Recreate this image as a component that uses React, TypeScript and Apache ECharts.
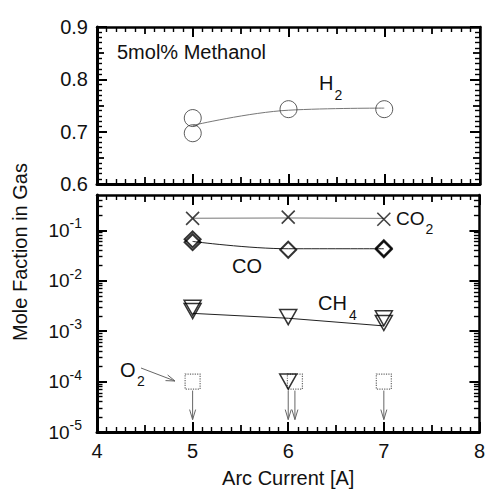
import { useEffect, useRef } from 'react';
import * as echarts from 'echarts';

const FONT = '"Liberation Sans", Arial, Helvetica, sans-serif';

// ---- axis / tick definitions ----
const xRange = [4, 8];
const xMajorTicks = [4, 5, 6, 7, 8];
const topYRange = [0.6, 0.9];
const topYMajorTicks = [0.6, 0.7, 0.8, 0.9];
const logDecades = [-5, -4, -3, -2, -1];
const logMinorMultipliers = [2, 3, 4, 5, 6, 7, 8, 9];
const bottomYMaxValue = 0.5;

// ---- data ----
const h2Points = [[5, 0.726], [5, 0.697], [6, 0.743], [7, 0.743]];
const h2Fit = [[5, 0.712], [6, 0.741], [7, 0.745]];

const co2Points = [[5, 0.172], [6, 0.182], [7, 0.165]];
const co2Fit = [[5, 0.173], [6, 0.175], [7, 0.172]];

const coPoints = [[5, 0.066], [5, 0.058], [6, 0.041], [7, 0.042], [7, 0.044]];
const coFit = [[5, 0.06], [6, 0.043], [7, 0.043]];

const ch4Points = [[5, 2.9e-3], [5, 2.5e-3], [6, 1.9e-3], [7, 1.8e-3], [7, 1.45e-3]];
const ch4Fit = [[5, 2.25e-3], [6, 1.8e-3], [7, 1.27e-3]];
const ch4UpperLimit = [[6, 1e-4]];

const o2UpperLimit = [[5, 1e-4], [6.07, 1e-4], [7, 1e-4]];

const toLog = (pts: number[][]) => pts.map(([x, v]) => [x, Math.log10(v)]);

export default function App() {
  const ref = useRef<HTMLDivElement>(null);

  useEffect(() => {
    if (!ref.current) return;
    const chart = echarts.init(ref.current, undefined, { renderer: 'svg' });

    const logMax = Math.log10(bottomYMaxValue);
    const minorLog: number[] = [];
    logDecades.forEach((e) => {
      logMinorMultipliers.forEach((k) => {
        const v = Math.log10(k) + e;
        if (v < logMax - 1e-6) minorLog.push(v);
      });
    });

    const tick = () => ({ show: true, inside: true, length: 7, lineStyle: { color: '#000', width: 1.8 } });
    const minor = () => ({ show: true, splitNumber: 5, length: 5, lineStyle: { color: '#000', width: 1.4 } });
    const majorTick = (values: number[]) => ({
      show: true,
      inside: true,
      length: 10,
      customValues: values,
      lineStyle: { color: '#000', width: 2 },
    });
    const line = (w: number) => ({ show: true, onZero: false, lineStyle: { color: '#000', width: w } });
    const noLine = () => ({ show: false, onZero: false });

    const xMain = (grid: number, pos: string, w: number, labels: boolean) => ({
      type: 'value',
      gridIndex: grid,
      position: pos,
      min: xRange[0],
      max: xRange[1],
      interval: 0.5,
      axisLine: line(w),
      axisTick: tick(),
      minorTick: minor(),
      splitLine: { show: false },
      axisLabel: labels
        ? {
            show: true,
            margin: 9,
            fontSize: 20,
            fontFamily: FONT,
            color: '#111',
            formatter: (v: number) => (Math.abs(v - Math.round(v)) < 1e-6 ? String(Math.round(v)) : ''),
          }
        : { show: false },
    });

    const xOverlay = (grid: number, pos: string) => ({
      type: 'value',
      gridIndex: grid,
      position: pos,
      min: xRange[0],
      max: xRange[1],
      axisLine: noLine(),
      axisTick: majorTick(xMajorTicks),
      splitLine: { show: false },
      axisLabel: { show: false },
    });

    const topYMain = (pos: string, w: number, labels: boolean) => ({
      type: 'value',
      gridIndex: 0,
      position: pos,
      min: topYRange[0],
      max: topYRange[1],
      interval: 0.05,
      axisLine: line(w),
      axisTick: tick(),
      minorTick: minor(),
      splitLine: { show: false },
      axisLabel: labels
        ? {
            show: true,
            margin: 9,
            fontSize: 20,
            fontFamily: FONT,
            color: '#111',
            formatter: (v: number) =>
              Math.abs(v * 10 - Math.round(v * 10)) < 1e-6 ? v.toFixed(1) : '',
          }
        : { show: false },
    });

    const topYOverlay = (pos: string) => ({
      type: 'value',
      gridIndex: 0,
      position: pos,
      min: topYRange[0],
      max: topYRange[1],
      axisLine: noLine(),
      axisTick: majorTick(topYMajorTicks),
      splitLine: { show: false },
      axisLabel: { show: false },
    });

    const bottomYMajor = (pos: string, w: number, labels: boolean) => ({
      type: 'value',
      gridIndex: 1,
      position: pos,
      min: -5,
      max: logMax,
      interval: 1,
      axisLine: line(w),
      axisTick: majorTick(logDecades),
      splitLine: { show: false },
      axisLabel: labels
        ? {
            show: true,
            margin: 15,
            customValues: logDecades,
            color: '#111',
            formatter: (v: number) =>
              Math.abs(v - Math.round(v)) < 1e-6 ? `{b|10}{s|${Math.round(v)}}` : '',
            rich: {
              b: { fontSize: 19, fontFamily: FONT, color: '#111' },
              s: { fontSize: 14, fontFamily: FONT, color: '#111', padding: [0, 0, 14, 0] },
            },
          }
        : { show: false },
    });

    const bottomYMinor = (pos: string) => ({
      type: 'value',
      gridIndex: 1,
      position: pos,
      min: -5,
      max: logMax,
      axisLine: noLine(),
      axisTick: { show: true, inside: true, length: 5.5, customValues: minorLog, lineStyle: { color: '#000', width: 1.4 } },
      splitLine: { show: false },
      axisLabel: { show: false },
    });

    const hollow = (color: string, width: number, type: any = 'solid') => ({
      color: 'rgba(0,0,0,0)',
      borderColor: color,
      borderWidth: width,
      borderType: type,
    });

    const fitLine = (data: number[][], xi: number, yi: number, color: string, smooth: number) => ({
      type: 'line',
      xAxisIndex: xi,
      yAxisIndex: yi,
      data,
      smooth,
      symbol: 'none',
      showSymbol: false,
      lineStyle: { color, width: 1 },
      z: 2,
      silent: true,
    });

    const arrowData = toLog([...ch4UpperLimit, ...o2UpperLimit]);

    const txt = (text: string, x: number, y: number, size: number) => ({
      type: 'text',
      x,
      y,
      style: { text, font: `${size}px ${FONT}`, fill: '#111', align: 'left', verticalAlign: 'middle' },
    });

    const option: any = {
      animation: false,
      backgroundColor: '#fff',
      grid: [
        { left: 97, top: 27, width: 383, height: 157 },
        { left: 97, top: 195, width: 383, height: 237 },
      ],
      xAxis: [
        xMain(0, 'bottom', 3, false),
        xMain(0, 'top', 2.5, false),
        {
          ...xMain(1, 'bottom', 3, true),
          name: 'Arc Current [A]',
          nameLocation: 'middle',
          nameGap: 36,
          nameTextStyle: { fontSize: 20, fontFamily: FONT, color: '#111', verticalAlign: 'top' },
        },
        xMain(1, 'top', 2.5, false),
        xOverlay(0, 'bottom'),
        xOverlay(0, 'top'),
        xOverlay(1, 'bottom'),
        xOverlay(1, 'top'),
      ],
      yAxis: [
        topYMain('left', 3, true),
        topYMain('right', 2.5, false),
        bottomYMajor('left', 3, true),
        bottomYMinor('left'),
        bottomYMajor('right', 2.5, false),
        bottomYMinor('right'),
        topYOverlay('left'),
        topYOverlay('right'),
      ],
      series: [
        fitLine(h2Fit, 0, 0, '#777', 0.4),
        {
          type: 'scatter',
          xAxisIndex: 0,
          yAxisIndex: 0,
          data: h2Points,
          symbol: 'circle',
          symbolSize: 17,
          itemStyle: hollow('#333', 1),
          z: 3,
        },
        fitLine(toLog(co2Fit), 2, 2, '#777', 0),
        {
          type: 'scatter',
          xAxisIndex: 2,
          yAxisIndex: 2,
          data: toLog(co2Points),
          symbol: 'path://M0,0L10,10M10,0L0,10',
          symbolSize: 13,
          itemStyle: hollow('#111', 1.6),
          z: 3,
        },
        fitLine(toLog(coFit), 2, 2, '#222', 0.4),
        {
          type: 'scatter',
          xAxisIndex: 2,
          yAxisIndex: 2,
          data: toLog(coPoints),
          symbol: 'diamond',
          symbolSize: 16,
          itemStyle: hollow('#000', 2),
          z: 3,
        },
        fitLine(toLog(ch4Fit), 2, 2, '#222', 0),
        {
          type: 'scatter',
          xAxisIndex: 2,
          yAxisIndex: 2,
          data: toLog([...ch4Points, ...ch4UpperLimit]),
          symbol: 'triangle',
          symbolRotate: 180,
          symbolSize: [17, 15],
          itemStyle: hollow('#000', 1.5),
          z: 4,
        },
        {
          type: 'scatter',
          xAxisIndex: 2,
          yAxisIndex: 2,
          data: toLog(o2UpperLimit),
          symbol: 'rect',
          symbolSize: 15,
          itemStyle: hollow('#444', 1.2, 'dotted'),
          z: 3,
        },
        {
          type: 'custom',
          xAxisIndex: 2,
          yAxisIndex: 2,
          data: arrowData,
          silent: true,
          clip: false,
          renderItem: (_p: any, api: any) => {
            const c = api.coord([api.value(0), api.value(1)]);
            const x = c[0];
            const y0 = c[1] + 9;
            const y1 = c[1] + 38;
            return {
              type: 'group',
              children: [
                { type: 'line', shape: { x1: x, y1: y0, x2: x, y2: y1 }, style: { stroke: '#666', lineWidth: 1 } },
                {
                  type: 'polyline',
                  shape: { points: [[x - 3, y1 - 10], [x, y1], [x + 3, y1 - 10]] },
                  style: { stroke: '#666', fill: null, lineWidth: 1 },
                },
              ],
            };
          },
        },
      ],
      graphic: [
        {
          type: 'text',
          x: 20,
          y: 252,
          rotation: Math.PI / 2,
          style: { text: 'Mole Faction in Gas', font: `20px ${FONT}`, fill: '#111', align: 'center', verticalAlign: 'middle' },
        },
        txt('5mol% Methanol', 117, 52, 20),
        txt('H', 319, 83, 20),
        txt('2', 334.5, 95, 14),
        txt('CO', 396, 218, 19),
        txt('2', 425.5, 229, 14),
        txt('CO', 232, 266, 20),
        txt('CH', 318, 303, 20),
        txt('4', 349, 315, 14),
        txt('O', 120, 370, 20),
        txt('2', 137, 381, 14),
        { type: 'line', shape: { x1: 141, y1: 368, x2: 175, y2: 381 }, style: { stroke: '#666', lineWidth: 1 } },
        {
          type: 'polyline',
          shape: { points: [[165.5, 380.6], [175, 381], [167.7, 375]] },
          style: { stroke: '#666', fill: null, lineWidth: 1 },
        },
      ],
    };

    chart.setOption(option);
    return () => chart.dispose();
  }, []);

  return (
    <div
      ref={ref}
      style={{ position: 'fixed', left: 0, top: 0, width: 488, height: 490, background: '#fff' }}
    />
  );
}
